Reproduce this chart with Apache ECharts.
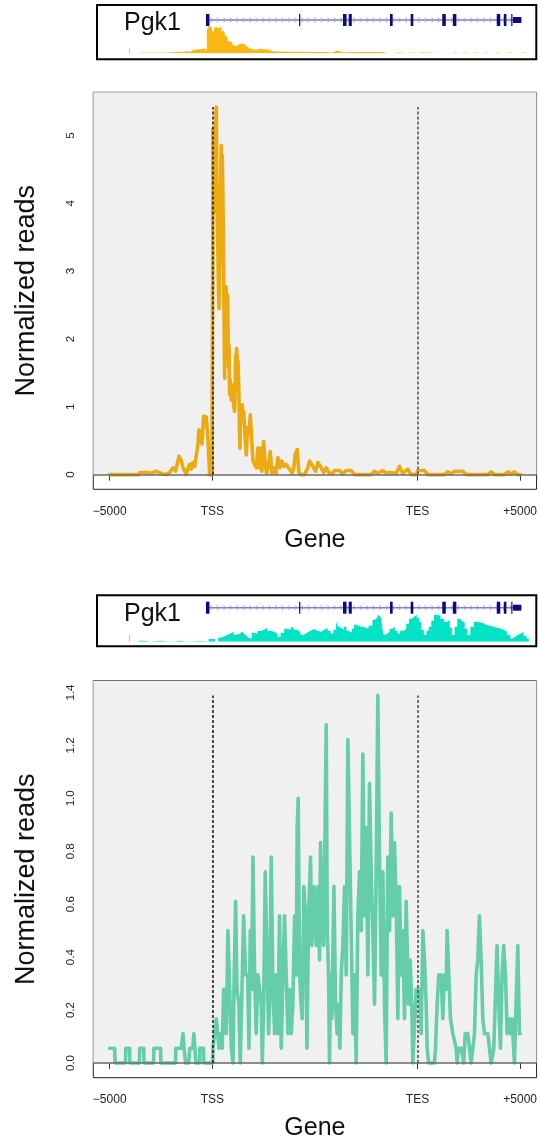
<!DOCTYPE html>
<html><head><meta charset="utf-8">
<script src="https://cdn.jsdelivr.net/npm/echarts@6/dist/echarts.min.js"></script>
<style>html,body{margin:0;padding:0;background:#fff}#c{width:540px;height:1144px}</style>
</head><body><div id="c"></div>
<script>
// ---------- axis ticks / labels ----------
const tickPos = [-5000, 0, 10000, 15000];
const tickLabels = ['\u22125000', 'TSS', 'TES', '+5000'];
const topTicksY = [0, 1, 2, 3, 4, 5];
const botTicksY = [0, 0.2, 0.4, 0.6, 0.8, 1.0, 1.2, 1.4];
const geneName = 'Pgk1';
const xTitle = 'Gene';
const yTitle = 'Normalized reads';

// ---------- gene model (track units 0..1000 across the inset) ----------
const geneSpan = [250, 966];
const exonStart  = [248, 460, 560, 573, 667, 714, 786, 810, 910, 926, 943, 947];
const exonEnd    = [256, 461, 568, 580, 673, 720, 794, 818, 918, 932, 944, 966];
const exonHeight = [1, 1, 1, 1, 1, 1, 1, 1, 1, 1, 1, 0.5];
const startMark = [74];

// ---------- coverage tracks ----------
const covTopPos = [95,160,175,185,195,205,212,220,232,245,250,254,260,264,268,273,278,283,288,292,297,303,308,313,318,323,330,336,341,347,355,363,372,380,392,400,430,460,500,520,535,540,545,560,600,640,650,665,690,700,720,730,740,805,815,825,838,850,860,875,887,900,912,925,940,960,975,985,990];
const covTopVal = [0.6,1.0,1.6,1.2,2.0,1.5,3.5,4.0,4.5,3.5,23,27,26,20,26,25,27,22,25,17,12,11,8,7,9,10,9,7,5,4,3.5,4.5,4,3.5,2,1.5,1.5,1.2,1.3,0.8,1.5,2.8,1.0,1.2,1.3,1.2,0,0.8,0,0.8,0,0.8,0,0.8,0,0.8,0,0.8,0,0.8,0,0.8,0,0.8,0,0.8,0,0.8,0];
const covBotPos = [95,106,121,144,167,189,204,235,254,269,276,284,290,298,305,311,316,320,325,330,335,340,345,352,358,365,372,380,387,395,403,411,418,426,433,441,448,456,463,471,478,486,494,502,510,517,525,532,538,544,547,551,556,562,568,574,580,585,592,600,606,612,618,627,632,638,642,646,650,653,657,661,666,672,678,684,690,699,704,710,716,722,728,733,738,744,750,755,761,767,774,782,790,797,803,808,814,820,826,831,837,843,850,858,866,877,886,895,903,911,918,926,933,941,946,952,958,964,971,978,983];
const covBotVal = [1,0,1,0,1,0,0.7,0,2.7,0,4.3,5.5,7,8.5,10,7,5,8,10,8,6,4,3,9,8,10.7,12,14,11,10,8,5,9,13,12,14.3,12,10,7,9,11,12.7,11,10,12,14,11,8.3,12,20.7,16,14,12,15,11,9,13,17,15,15,14,13,16,22,24,27,25,23,12,6.7,8,10,13,15,11,8.3,11,13,18,23,25,27,24,20,12,6.7,11,15,21,27,26,23,20,21.7,14,6.7,15,23,21,19,13,6.7,15,20,19,17,16,15,14,13.3,12,10,7,3.3,5,6.7,8,10,6,3.3,0];

// ---------- profile: top (orange) ----------
const topPos = [-5000,-3580,-3540,-3215,-3050,-2890,-2730,-2570,-2400,-2240,-2080,-1920,-1790,-1625,-1510,-1430,-1350,-1270,-1190,-1105,-1025,-945,-860,-780,-700,-650,-570,-505,-425,-295,-210,-130,-20,20,30,50,70,90,115,145,170,195,215,240,260,275,300,325,350,370,400,435,460,485,510,535,565,600,625,650,670,695,720,745,770,795,815,840,865,890,920,955,985,1020,1050,1085,1110,1135,1160,1185,1215,1250,1270,1295,1320,1345,1370,1395,1430,1460,1490,1525,1590,1655,1720,1785,1850,1915,1980,2060,2140,2220,2270,2335,2415,2500,2565,2645,2740,2820,2905,3000,3100,3195,3295,3390,3490,3600,3715,3810,3895,3975,4040,4135,4220,4330,4495,4655,4740,4900,5030,5145,5305,5420,5550,5710,5875,5955,6200,6360,6525,6765,6930,7740,7905,8065,8310,8470,8635,8960,9120,9280,9525,9690,9930,10015,10340,10500,11310,11475,11635,11800,12205,12365,13420,13585,13745,14230,14395,14555,14720,14880,15000];
const topReads = [0,0,0.03,0.03,0.02,0.03,0.05,0.03,0.01,0,0.03,0.1,0.05,0.27,0.2,0.1,0.12,0,0.1,0.15,0.08,0.18,0.12,0.1,0.45,0.66,0.6,0.45,0.86,0.85,0.5,0,0,3.0,5.1,3.9,4.4,3.87,4.6,5.0,5.3,5.42,4.5,3.82,3.4,3.28,2.7,2.45,3.0,3.14,4.2,4.85,4.5,4.7,4.2,3.63,2.5,1.42,1.9,2.16,2.77,2.77,2.0,2.65,2.0,1.57,1.9,1.18,1.4,1.32,1.1,1.08,1.25,1.32,1.0,0.93,1.2,1.76,1.6,1.86,1.7,1.67,1.5,1.18,0.7,0.39,0.8,0.98,0.85,1.03,0.8,0.93,0.59,0.29,0.69,0.59,0.88,0.54,0.2,0.15,0.1,0.39,0.1,0.39,0.05,0.49,0.2,0.02,0.15,0.34,0.02,0.1,0.02,0.25,0.1,0.2,0.12,0.15,0.1,0.12,0.02,0.1,0.3,0.37,0.02,0,0,0.1,0.2,0.12,0.05,0.18,0.1,0.03,0.1,0.02,0.02,0.06,0.06,0.01,0.06,0.06,0,0,0.05,0.02,0.06,0.02,0.03,0.02,0.12,0.02,0.08,0,0,0.06,0.06,0,0,0.04,0.01,0.05,0.05,0,0,0.04,0,0,0.04,0.01,0.04,0,0];

// ---------- profile: bottom (green) ----------
const botPos = [-5000,-4760,-4740,-4230,-4220,-4030,-4020,-3550,-3540,-3340,-3330,-2860,-2850,-2520,-2510,-1790,-1780,-1520,-1430,-1380,-1300,-1150,-1100,-950,-900,-850,-800,-620,-610,-430,-420,20,30,110,195,275,325,390,485,550,650,680,760,845,925,1005,1055,1135,1200,1295,1360,1445,1525,1620,1720,1785,1850,1915,1980,2060,2140,2220,2305,2385,2435,2500,2580,2675,2740,2790,2870,2955,3035,3115,3195,3275,3360,3440,3520,3600,3685,3765,3845,3925,4010,4090,4135,4185,4250,4330,4380,4460,4545,4610,4690,4785,4850,4950,5065,5145,5225,5275,5340,5420,5470,5550,5600,5665,5710,5760,5825,5925,6005,6085,6165,6215,6280,6360,6445,6525,6605,6685,6765,6850,6930,7010,7090,7175,7255,7335,7415,7500,7580,7660,7740,7820,7905,7985,8065,8145,8230,8310,8390,8470,8550,8635,8715,8795,8875,8960,9040,9120,9200,9280,9365,9445,9495,9560,9640,9720,9770,9850,9935,10095,10175,10260,10340,10420,10470,10535,10825,10875,10955,11035,11150,11230,11315,11395,11440,11525,11605,11720,11800,11880,11930,11995,12125,12255,12320,12450,12530,12610,12690,12775,12855,12935,13015,13100,13180,13260,13425,13505,13585,13715,13830,13875,13960,14040,14120,14200,14285,14365,14445,14525,14605,14720,14800,14885,14965,15000];
const botReads = [0.056,0.056,0,0,0.056,0.056,0,0,0.056,0.056,0,0,0.056,0.056,0,0,0.056,0.056,0.111,0.056,0,0,0.056,0.056,0.111,0.056,0,0,0.056,0.056,0,0,0.056,0.056,0.167,0.167,0.056,0.111,0.056,0.278,0.278,0.111,0.5,0.278,0.056,0,0.278,0.611,0.278,0.222,0,0.278,0.556,0.333,0.333,0.056,0.5,0.278,0.778,0.333,0.111,0.333,0.333,0.222,0,0.222,0.722,0.333,0.111,0.222,0.778,0.278,0.111,0.333,0.111,0.556,0.056,0.333,0.556,0.333,0.111,0.278,0.111,0.222,0.556,0.333,0.889,1.0,0.333,0.222,0.167,0.667,0.556,0.056,0.556,0.778,0.444,0.667,0.444,0.667,0.389,0.833,0.556,0.444,0.722,1.278,0.5,0.333,0,0.333,0.167,0.667,0.222,0.111,0.222,0.056,0.333,0.444,0.667,0.333,1.222,1.222,0.5,0.111,0.333,0,0.556,0.722,0.5,1.167,0.556,0.889,0.333,1.056,0.722,0.5,0.222,0.722,1.389,0.778,0.333,0.722,0.222,0,0.778,0.5,0.944,0.556,0.833,0.611,0.167,0.667,0.333,0.5,0.167,0.611,0.611,0.222,0.389,0.222,0,0,0.278,0.278,0.111,0.5,0.389,0.222,0.056,0,0,0.056,0.222,0.333,0.333,0.167,0.333,0.278,0.5,0.333,0.167,0.111,0.111,0.056,0,0.056,0.056,0,0.111,0.111,0.056,0,0,0.111,0.333,0.389,0.556,0.389,0.167,0.111,0.111,0.056,0,0.056,0.333,0.444,0.222,0.056,0.333,0.444,0.333,0.111,0.167,0.111,0.167,0,0.222,0.444,0.111,0.111];

// ---------- styles ----------
const FONT = '"Liberation Sans", Arial, Helvetica, sans-serif';
const topColor = '#EBA912';
const botColor = '#66CDAA';
const topCovColor = '#FDB714';
const botCovColor = '#02E3C6';
const exonColor = '#0B0B7A';

const pairs = (xs, ys) => xs.map((x, i) => [x, ys[i]]);

function renderExon(params, api) {
  const s = api.value(0), e = api.value(1), h = api.value(2);
  const p0 = api.coord([s, 0.5 + h / 2]);
  const p1 = api.coord([e, 0.5 - h / 2]);
  const w = Math.max(p1[0] - p0[0], 1.2);
  return { type: 'rect', shape: { x: p0[0], y: p0[1], width: w, height: p1[1] - p0[1] }, style: { fill: exonColor } };
}
function renderGeneLine(params, api) {
  const a = api.coord([api.value(0), 0.5]), b = api.coord([api.value(1), 0.5]);
  const children = [{ type: 'line', shape: { x1: a[0], y1: a[1], x2: b[0], y2: b[1] }, style: { stroke: '#7C7CC4', lineWidth: 1.5 } }];
  for (let x = a[0] + 5; x < b[0] - 3; x += 6.5) {
    children.push({ type: 'polyline', shape: { points: [[x - 1.5, a[1] - 2.5], [x + 1, a[1]], [x - 1.5, a[1] + 2.5]] }, style: { stroke: '#A4A4DA', lineWidth: 1, fill: null } });
  }
  return { type: 'group', children };
}

const grids = [], xAxes = [], yAxes = [], series = [], titles = [];
const hiddenAxis = (gi, min, max) => ({ gridIndex: gi, type: 'value', min, max, show: false, splitLine: { show: false } });

function addTrack(boxTop, boxH, modelTop, covTop, covPos, covVal, covColor, markH) {
  const g0 = grids.length;
  grids.push({ left: 97, right: 3.7, top: boxTop, height: boxH, show: true, borderColor: '#000', borderWidth: 2, backgroundColor: 'transparent' });
  xAxes.push(hiddenAxis(g0, 0, 1000)); yAxes.push(hiddenAxis(g0, 0, 1));
  const g1 = grids.length;
  grids.push({ left: 97, right: 3.7, top: modelTop, height: 12 });
  xAxes.push(hiddenAxis(g1, 0, 1000)); yAxes.push(hiddenAxis(g1, 0, 1));
  const g2 = grids.length;
  grids.push({ left: 97, right: 3.7, top: covTop, height: 30 });
  xAxes.push(hiddenAxis(g2, 0, 1000)); yAxes.push(hiddenAxis(g2, 0, 30));
  series.push({
    type: 'line', xAxisIndex: g2, yAxisIndex: g2, data: pairs(covPos, covVal), step: 'end', symbol: 'none',
    lineStyle: { width: 0 }, areaStyle: { color: covColor, opacity: 1 }, silent: true, z: 1,
    markLine: { silent: true, symbol: 'none', label: { show: false }, lineStyle: { color: '#F4A6B0', type: 'solid', width: 1 },
      data: startMark.map(u => [{ coord: [u, 0] }, { coord: [u, markH] }]) }
  });
  series.push({ type: 'custom', xAxisIndex: g1, yAxisIndex: g1, renderItem: renderGeneLine, data: [geneSpan], silent: true, z: 2 });
  series.push({ type: 'custom', xAxisIndex: g1, yAxisIndex: g1, renderItem: renderExon,
    data: exonStart.map((s, i) => [s, exonEnd[i], exonHeight[i]]), silent: true, z: 3 });
}

function addProfile(top, pos, reads, color, ticksY, fmt) {
  const gi = grids.length;
  const ymax = Math.max(...reads);
  const lo = -0.04 * ymax, hi = 1.04 * ymax;
  grids.push({ left: 93.3, right: 3.3, top: top, height: 397, show: true, borderColor: '#222', borderWidth: 1, backgroundColor: '#fff' });
  xAxes.push({
    gridIndex: gi, type: 'value', min: -5800, max: 15800,
    axisLine: { show: false }, splitLine: { show: false },
    axisTick: { show: true, customValues: tickPos, length: 6, lineStyle: { color: '#333', width: 1 } },
    axisLabel: { customValues: tickPos, formatter: v => tickLabels[tickPos.indexOf(Number(v))], fontSize: 12, color: '#222', margin: 16, fontFamily: FONT },
    name: xTitle, nameLocation: 'middle', nameGap: 38, nameTextStyle: { fontSize: 25, color: '#111', fontFamily: FONT }
  });
  yAxes.push({
    gridIndex: gi, type: 'value', min: lo, max: hi,
    axisLine: { show: false }, splitLine: { show: false },
    axisTick: { show: true, customValues: ticksY, length: 6, lineStyle: { color: '#333', width: 1 } },
    axisLabel: { customValues: ticksY, formatter: fmt, rotate: 90, fontSize: 11.5, color: '#222', margin: 16, fontFamily: FONT },
    name: yTitle, nameLocation: 'middle', nameGap: 53, nameTextStyle: { fontSize: 27, color: '#111', fontFamily: FONT }
  });
  series.push({
    type: 'line', xAxisIndex: gi, yAxisIndex: gi, data: [], silent: true, z: 1,
    markArea: { silent: true, itemStyle: { color: '#F0F0F0' }, data: [[{ coord: [-5800, 0] }, { coord: [15800, hi] }]] },
    markLine: { silent: true, symbol: 'none', label: { show: false }, lineStyle: { color: '#6A6A6A', type: 'solid', width: 1.6 }, data: [{ yAxis: 0 }] }
  });
  series.push({
    type: 'line', xAxisIndex: gi, yAxisIndex: gi, data: pairs(pos, reads), symbol: 'none', showSymbol: false,
    lineStyle: { color: color, width: 3.6, join: 'round', cap: 'round' }, silent: true, z: 3,
    markLine: { silent: true, symbol: 'none', label: { show: false }, z: 5,
      data: [
        [{ coord: [0, 0], lineStyle: { color: '#222', type: [3, 2], width: 1.6 } }, { coord: [0, ymax] }],
        [{ coord: [10000, 0], lineStyle: { color: '#555', type: [3, 2], width: 1.6 } }, { coord: [10000, ymax] }]
      ] }
  });
}

addTrack(5, 54.3, 14, 23.3, covTopPos, covTopVal, topCovColor, 5);
addProfile(92.3, topPos, topReads, topColor, topTicksY, v => String(v));
addTrack(595.3, 51, 601.7, 611.7, covBotPos, covBotVal, botCovColor, 6.7);
addProfile(680.7, botPos, botReads, botColor, botTicksY, v => Number(v).toFixed(1));

titles.push({ text: geneName, left: 124, top: 11, padding: 0, textStyle: { fontSize: 25, fontWeight: 'normal', color: '#111', fontFamily: FONT } });
titles.push({ text: geneName, left: 124, top: 602, padding: 0, textStyle: { fontSize: 25, fontWeight: 'normal', color: '#111', fontFamily: FONT } });

const chart = echarts.init(document.getElementById('c'), null, { renderer: 'canvas' });
chart.setOption({
  animation: false,
  backgroundColor: '#fff',
  textStyle: { fontFamily: FONT },
  title: titles,
  grid: grids, xAxis: xAxes, yAxis: yAxes, series: series
});
</script></body></html>
